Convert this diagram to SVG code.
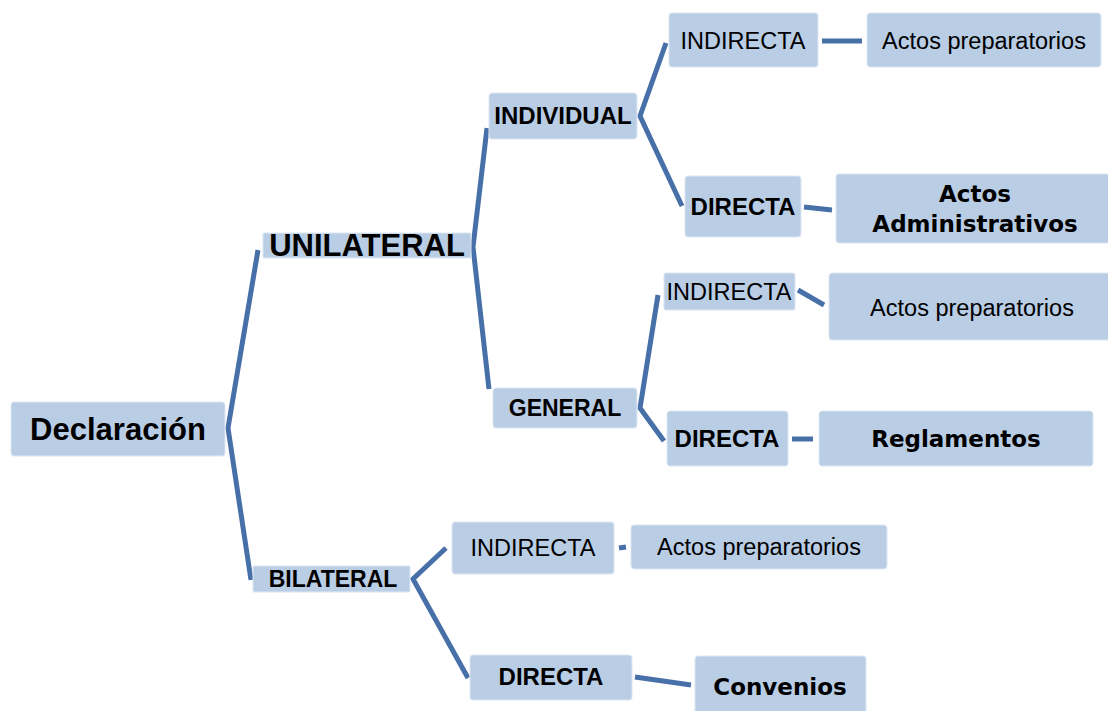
<svg xmlns="http://www.w3.org/2000/svg" width="1108" height="711" viewBox="0 0 1108 711">
<style>
.box{fill:#b9cde5;stroke:#dde6f2;stroke-width:1}
.t{font-family:"Liberation Sans",Arial,sans-serif;fill:#000;text-anchor:middle}
.b{font-weight:bold}
.w{font-family:"DejaVu Sans",Verdana,sans-serif;font-weight:bold;font-size:23px;fill:#000;text-anchor:middle}
.c{fill:none;stroke:#4870a8;stroke-width:5;stroke-linejoin:miter}
</style>
<rect width="1108" height="711" fill="#fff"/>
<g id="connectors">
<polyline class="c" points="258,250 228,428 251,580"/>
<polyline class="c" points="487,128 473,247 489,389"/>
<polyline class="c" points="666,43 640,116 682,206"/>
<polyline class="c" points="658,295 640,408 664,441"/>
<polyline class="c" points="446,548 413,579 468,678"/>
<line class="c" x1="822" y1="41" x2="862" y2="41"/>
<line class="c" x1="804" y1="207" x2="832" y2="210"/>
<line class="c" x1="798" y1="290" x2="824" y2="305"/>
<line class="c" x1="792" y1="439" x2="813" y2="439"/>
<line class="c" x1="619" y1="548" x2="626" y2="547"/>
<line class="c" x1="635" y1="677" x2="691" y2="685"/>
</g>
<g id="declaracion"><rect class="box" x="11" y="402" width="214" height="54" rx="3"/><text class="t b" x="118" y="440" font-size="31">Declaración</text></g>
<g id="unilateral"><rect class="box" x="263" y="233" width="208" height="25" rx="1"/><text class="t b" x="367" y="256" font-size="31">UNILATERAL</text></g>
<g id="individual"><rect class="box" x="489" y="93" width="148" height="46" rx="3"/><text class="t b" x="563" y="124" font-size="24">INDIVIDUAL</text></g>
<g id="general"><rect class="box" x="493" y="388" width="144" height="40" rx="3"/><text class="t b" x="565" y="416" font-size="23">GENERAL</text></g>
<g id="bilateral"><rect class="box" x="253" y="566" width="157" height="26" rx="1"/><text class="t b" x="333" y="587" font-size="23">BILATERAL</text></g>
<g id="indirecta1"><rect class="box" x="669" y="13" width="149" height="54" rx="3"/><text class="t" x="743" y="49" font-size="23.5">INDIRECTA</text></g>
<g id="actosprep1"><rect class="box" x="867" y="13" width="234" height="54" rx="3"/><text class="t" x="984" y="49" font-size="23.5">Actos preparatorios</text></g>
<g id="directa1"><rect class="box" x="685" y="176" width="116" height="61" rx="3"/><text class="t b" x="743" y="215" font-size="24">DIRECTA</text></g>
<g id="actosadm"><rect class="box" x="836" y="174" width="276" height="69" rx="3"/><text class="w" x="975" y="202">Actos</text><text class="w" x="975" y="232">Administrativos</text></g>
<g id="indirecta2"><rect class="box" x="664" y="273" width="131" height="37" rx="2"/><text class="t" x="729" y="300" font-size="23.5">INDIRECTA</text></g>
<g id="actosprep2"><rect class="box" x="829" y="273" width="283" height="67" rx="3"/><text class="t" x="972" y="316" font-size="23.5">Actos preparatorios</text></g>
<g id="directa2"><rect class="box" x="667" y="411" width="121" height="55" rx="3"/><text class="t b" x="727" y="447" font-size="24">DIRECTA</text></g>
<g id="reglamentos"><rect class="box" x="819" y="411" width="274" height="55" rx="3"/><text class="w" x="956" y="447">Reglamentos</text></g>
<g id="indirecta3"><rect class="box" x="452" y="522" width="162" height="52" rx="3"/><text class="t" x="533" y="556" font-size="23.5">INDIRECTA</text></g>
<g id="actosprep3"><rect class="box" x="631" y="525" width="256" height="44" rx="3"/><text class="t" x="759" y="555" font-size="23.5">Actos preparatorios</text></g>
<g id="directa3"><rect class="box" x="470" y="655" width="162" height="45" rx="3"/><text class="t b" x="551" y="685" font-size="24">DIRECTA</text></g>
<g id="convenios"><rect class="box" x="695" y="656" width="171" height="58" rx="3"/><text class="w" x="780" y="695">Convenios</text></g>
</svg>
